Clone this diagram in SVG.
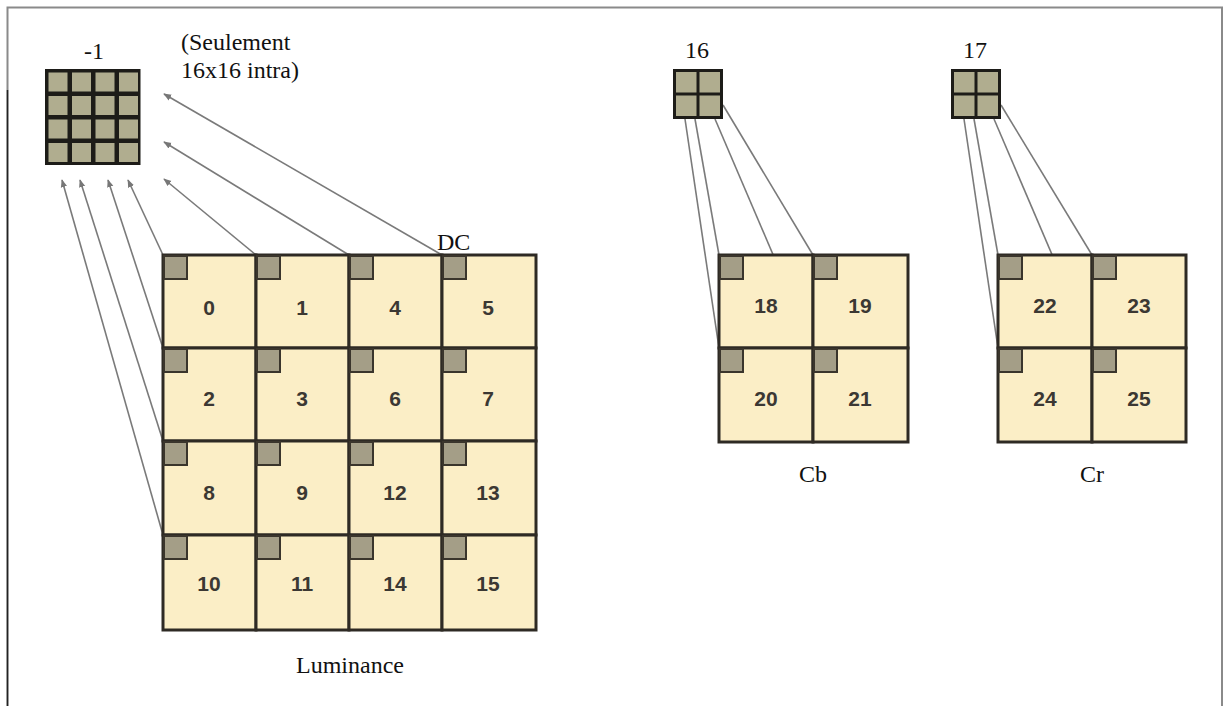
<svg xmlns="http://www.w3.org/2000/svg" width="1225" height="706" viewBox="0 0 1225 706">
<defs>
<style>
.lbl{font-family:"Liberation Serif","Times New Roman",serif;font-size:24px;fill:#111}
.num{font-family:"Liberation Sans",Arial,sans-serif;font-size:21px;font-weight:bold;fill:#3b3833;text-anchor:middle}
.blk{fill:#fbeec6;stroke:#2e2a24;stroke-width:3}
.dc{fill:#a49e87;stroke:#3a352c;stroke-width:2}
.grid{fill:#1d1c18}
.cell{fill:#b0ad8f}
.conn{stroke:#7a7a7a;stroke-width:1.6;fill:none}
</style>
<marker id="ah" viewBox="0 0 10 10" refX="9" refY="5" markerWidth="8" markerHeight="8" orient="auto" markerUnits="userSpaceOnUse">
<path d="M0,1 L10,5 L0,9 z" fill="#777"/>
</marker>
</defs>
<rect width="1225" height="706" fill="#ffffff"/>
<path d="M7.5,706 L7.5,7.5 L1222,7.5 L1222,706" fill="none" stroke="#8a8a8a" stroke-width="2"/>
<line x1="7.5" y1="90" x2="7.5" y2="706" stroke="#222" stroke-width="1.5"/>

<g id="connectors">
<line class="conn" x1="163" y1="535" x2="62" y2="180" marker-end="url(#ah)"/>
<line class="conn" x1="163" y1="441" x2="80" y2="180" marker-end="url(#ah)"/>
<line class="conn" x1="163" y1="348" x2="108" y2="180" marker-end="url(#ah)"/>
<line class="conn" x1="163" y1="255" x2="128" y2="180" marker-end="url(#ah)"/>
<line class="conn" x1="256" y1="255" x2="164" y2="179" marker-end="url(#ah)"/>
<line class="conn" x1="349" y1="255" x2="164" y2="142" marker-end="url(#ah)"/>
<line class="conn" x1="442" y1="255" x2="164" y2="94" marker-end="url(#ah)"/>
<line class="conn" x1="685" y1="119" x2="719" y2="348"/>
<line class="conn" x1="695" y1="119" x2="719" y2="255"/>
<line class="conn" x1="715" y1="119" x2="813" y2="348"/>
<line class="conn" x1="723" y1="105" x2="813" y2="255"/>
<line class="conn" x1="964" y1="119" x2="998" y2="348"/>
<line class="conn" x1="974" y1="119" x2="998" y2="255"/>
<line class="conn" x1="994" y1="119" x2="1092" y2="348"/>
<line class="conn" x1="1001" y1="105" x2="1092" y2="255"/>
</g>

<g id="dc-luma">
<rect class="grid" x="45" y="69" width="95.5" height="96"/>
<g class="cell">
<rect x="48.5" y="72.5" width="19" height="19"/><rect x="72" y="72.5" width="19" height="19"/><rect x="95.5" y="72.5" width="19" height="19"/><rect x="119" y="72.5" width="19" height="19"/>
<rect x="48.5" y="96" width="19" height="19"/><rect x="72" y="96" width="19" height="19"/><rect x="95.5" y="96" width="19" height="19"/><rect x="119" y="96" width="19" height="19"/>
<rect x="48.5" y="119.5" width="19" height="19"/><rect x="72" y="119.5" width="19" height="19"/><rect x="95.5" y="119.5" width="19" height="19"/><rect x="119" y="119.5" width="19" height="19"/>
<rect x="48.5" y="143" width="19" height="19"/><rect x="72" y="143" width="19" height="19"/><rect x="95.5" y="143" width="19" height="19"/><rect x="119" y="143" width="19" height="19"/>
</g>
<text class="lbl" x="94" y="59" text-anchor="middle">-1</text>
<text class="lbl" x="181" y="50">(Seulement</text>
<text class="lbl" x="181" y="78">16x16 intra)</text>
</g>

<g id="dc-cb">
<rect class="grid" x="673" y="69" width="50" height="50"/>
<g class="cell">
<rect x="676" y="72" width="20.5" height="20.5"/><rect x="699.5" y="72" width="20.5" height="20.5"/>
<rect x="676" y="95.5" width="20.5" height="20.5"/><rect x="699.5" y="95.5" width="20.5" height="20.5"/>
</g>
<text class="lbl" x="697" y="58" text-anchor="middle">16</text>
</g>

<g id="dc-cr">
<rect class="grid" x="951" y="69" width="50" height="50"/>
<g class="cell">
<rect x="954" y="72" width="20.5" height="20.5"/><rect x="977.5" y="72" width="20.5" height="20.5"/>
<rect x="954" y="95.5" width="20.5" height="20.5"/><rect x="977.5" y="95.5" width="20.5" height="20.5"/>
</g>
<text class="lbl" x="975" y="58" text-anchor="middle">17</text>
</g>

<g id="luma">
<g id="b0"><rect class="blk" x="163" y="255" width="93" height="93"/><rect class="dc" x="164" y="256" width="23" height="23"/><text class="num" x="209" y="315">0</text></g>
<g id="b1"><rect class="blk" x="256" y="255" width="93" height="93"/><rect class="dc" x="257" y="256" width="23" height="23"/><text class="num" x="302" y="315">1</text></g>
<g id="b4"><rect class="blk" x="349" y="255" width="93" height="93"/><rect class="dc" x="350" y="256" width="23" height="23"/><text class="num" x="395" y="315">4</text></g>
<g id="b5"><rect class="blk" x="442" y="255" width="94" height="93"/><rect class="dc" x="443" y="256" width="23" height="23"/><text class="num" x="488" y="315">5</text></g>
<g id="b2"><rect class="blk" x="163" y="348" width="93" height="93"/><rect class="dc" x="164" y="349" width="23" height="23"/><text class="num" x="209" y="406">2</text></g>
<g id="b3"><rect class="blk" x="256" y="348" width="93" height="93"/><rect class="dc" x="257" y="349" width="23" height="23"/><text class="num" x="302" y="406">3</text></g>
<g id="b6"><rect class="blk" x="349" y="348" width="93" height="93"/><rect class="dc" x="350" y="349" width="23" height="23"/><text class="num" x="395" y="406">6</text></g>
<g id="b7"><rect class="blk" x="442" y="348" width="94" height="93"/><rect class="dc" x="443" y="349" width="23" height="23"/><text class="num" x="488" y="406">7</text></g>
<g id="b8"><rect class="blk" x="163" y="441" width="93" height="94"/><rect class="dc" x="164" y="442" width="23" height="23"/><text class="num" x="209" y="500">8</text></g>
<g id="b9"><rect class="blk" x="256" y="441" width="93" height="94"/><rect class="dc" x="257" y="442" width="23" height="23"/><text class="num" x="302" y="500">9</text></g>
<g id="b12"><rect class="blk" x="349" y="441" width="93" height="94"/><rect class="dc" x="350" y="442" width="23" height="23"/><text class="num" x="395" y="500">12</text></g>
<g id="b13"><rect class="blk" x="442" y="441" width="94" height="94"/><rect class="dc" x="443" y="442" width="23" height="23"/><text class="num" x="488" y="500">13</text></g>
<g id="b10"><rect class="blk" x="163" y="535" width="93" height="95"/><rect class="dc" x="164" y="536" width="23" height="23"/><text class="num" x="209" y="591">10</text></g>
<g id="b11"><rect class="blk" x="256" y="535" width="93" height="95"/><rect class="dc" x="257" y="536" width="23" height="23"/><text class="num" x="302" y="591">11</text></g>
<g id="b14"><rect class="blk" x="349" y="535" width="93" height="95"/><rect class="dc" x="350" y="536" width="23" height="23"/><text class="num" x="395" y="591">14</text></g>
<g id="b15"><rect class="blk" x="442" y="535" width="94" height="95"/><rect class="dc" x="443" y="536" width="23" height="23"/><text class="num" x="488" y="591">15</text></g>
<text class="lbl" x="437" y="250">DC</text>
<text class="lbl" x="350" y="673" text-anchor="middle">Luminance</text>
</g>

<g id="cb">
<g id="b18"><rect class="blk" x="719" y="255" width="94" height="93"/><rect class="dc" x="720" y="256" width="23" height="23"/><text class="num" x="766" y="313">18</text></g>
<g id="b19"><rect class="blk" x="813" y="255" width="95" height="93"/><rect class="dc" x="814" y="256" width="23" height="23"/><text class="num" x="860" y="313">19</text></g>
<g id="b20"><rect class="blk" x="719" y="348" width="94" height="94"/><rect class="dc" x="720" y="349" width="23" height="23"/><text class="num" x="766" y="406">20</text></g>
<g id="b21"><rect class="blk" x="813" y="348" width="95" height="94"/><rect class="dc" x="814" y="349" width="23" height="23"/><text class="num" x="860" y="406">21</text></g>
<text class="lbl" x="813" y="482" text-anchor="middle">Cb</text>
</g>

<g id="cr">
<g id="b22"><rect class="blk" x="998" y="255" width="94" height="93"/><rect class="dc" x="999" y="256" width="23" height="23"/><text class="num" x="1045" y="313">22</text></g>
<g id="b23"><rect class="blk" x="1092" y="255" width="94" height="93"/><rect class="dc" x="1093" y="256" width="23" height="23"/><text class="num" x="1139" y="313">23</text></g>
<g id="b24"><rect class="blk" x="998" y="348" width="94" height="94"/><rect class="dc" x="999" y="349" width="23" height="23"/><text class="num" x="1045" y="406">24</text></g>
<g id="b25"><rect class="blk" x="1092" y="348" width="94" height="94"/><rect class="dc" x="1093" y="349" width="23" height="23"/><text class="num" x="1139" y="406">25</text></g>
<text class="lbl" x="1092" y="482" text-anchor="middle">Cr</text>
</g>
</svg>
